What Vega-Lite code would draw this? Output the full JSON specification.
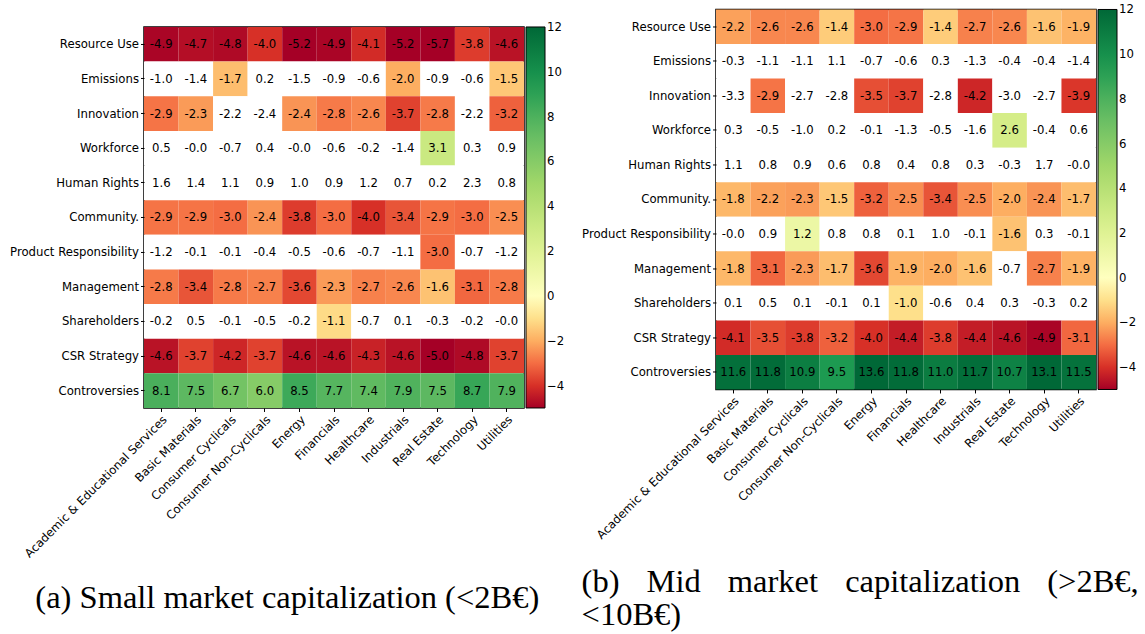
{
  "$schema": "https://vega.github.io/schema/vega-lite/v6.json",
  "background": "white",
  "padding": {"left": 8, "top": 8, "right": 0, "bottom": 0},
  "datasets": {
    "d": [
      {"p":"a","r":"Resource Use","c":"Academic & Educational Services","v":-4.9,"l":"-4.9","s":1},
      {"p":"a","r":"Resource Use","c":"Basic Materials","v":-4.7,"l":"-4.7","s":1},
      {"p":"a","r":"Resource Use","c":"Consumer Cyclicals","v":-4.8,"l":"-4.8","s":1},
      {"p":"a","r":"Resource Use","c":"Consumer Non-Cyclicals","v":-4.0,"l":"-4.0","s":1},
      {"p":"a","r":"Resource Use","c":"Energy","v":-5.2,"l":"-5.2","s":1},
      {"p":"a","r":"Resource Use","c":"Financials","v":-4.9,"l":"-4.9","s":1},
      {"p":"a","r":"Resource Use","c":"Healthcare","v":-4.1,"l":"-4.1","s":1},
      {"p":"a","r":"Resource Use","c":"Industrials","v":-5.2,"l":"-5.2","s":1},
      {"p":"a","r":"Resource Use","c":"Real Estate","v":-5.7,"l":"-5.7","s":1},
      {"p":"a","r":"Resource Use","c":"Technology","v":-3.8,"l":"-3.8","s":1},
      {"p":"a","r":"Resource Use","c":"Utilities","v":-4.6,"l":"-4.6","s":1},

      {"p":"a","r":"Emissions","c":"Academic & Educational Services","v":-1.0,"l":"-1.0","s":0},
      {"p":"a","r":"Emissions","c":"Basic Materials","v":-1.4,"l":"-1.4","s":0},
      {"p":"a","r":"Emissions","c":"Consumer Cyclicals","v":-1.7,"l":"-1.7","s":1},
      {"p":"a","r":"Emissions","c":"Consumer Non-Cyclicals","v":0.2,"l":"0.2","s":0},
      {"p":"a","r":"Emissions","c":"Energy","v":-1.5,"l":"-1.5","s":0},
      {"p":"a","r":"Emissions","c":"Financials","v":-0.9,"l":"-0.9","s":0},
      {"p":"a","r":"Emissions","c":"Healthcare","v":-0.6,"l":"-0.6","s":0},
      {"p":"a","r":"Emissions","c":"Industrials","v":-2.0,"l":"-2.0","s":1},
      {"p":"a","r":"Emissions","c":"Real Estate","v":-0.9,"l":"-0.9","s":0},
      {"p":"a","r":"Emissions","c":"Technology","v":-0.6,"l":"-0.6","s":0},
      {"p":"a","r":"Emissions","c":"Utilities","v":-1.5,"l":"-1.5","s":1},

      {"p":"a","r":"Innovation","c":"Academic & Educational Services","v":-2.9,"l":"-2.9","s":1},
      {"p":"a","r":"Innovation","c":"Basic Materials","v":-2.3,"l":"-2.3","s":1},
      {"p":"a","r":"Innovation","c":"Consumer Cyclicals","v":-2.2,"l":"-2.2","s":0},
      {"p":"a","r":"Innovation","c":"Consumer Non-Cyclicals","v":-2.4,"l":"-2.4","s":0},
      {"p":"a","r":"Innovation","c":"Energy","v":-2.4,"l":"-2.4","s":1},
      {"p":"a","r":"Innovation","c":"Financials","v":-2.8,"l":"-2.8","s":1},
      {"p":"a","r":"Innovation","c":"Healthcare","v":-2.6,"l":"-2.6","s":1},
      {"p":"a","r":"Innovation","c":"Industrials","v":-3.7,"l":"-3.7","s":1},
      {"p":"a","r":"Innovation","c":"Real Estate","v":-2.8,"l":"-2.8","s":1},
      {"p":"a","r":"Innovation","c":"Technology","v":-2.2,"l":"-2.2","s":0},
      {"p":"a","r":"Innovation","c":"Utilities","v":-3.2,"l":"-3.2","s":1},

      {"p":"a","r":"Workforce","c":"Academic & Educational Services","v":0.5,"l":"0.5","s":0},
      {"p":"a","r":"Workforce","c":"Basic Materials","v":-0.0,"l":"-0.0","s":0},
      {"p":"a","r":"Workforce","c":"Consumer Cyclicals","v":-0.7,"l":"-0.7","s":0},
      {"p":"a","r":"Workforce","c":"Consumer Non-Cyclicals","v":0.4,"l":"0.4","s":0},
      {"p":"a","r":"Workforce","c":"Energy","v":-0.0,"l":"-0.0","s":0},
      {"p":"a","r":"Workforce","c":"Financials","v":-0.6,"l":"-0.6","s":0},
      {"p":"a","r":"Workforce","c":"Healthcare","v":-0.2,"l":"-0.2","s":0},
      {"p":"a","r":"Workforce","c":"Industrials","v":-1.4,"l":"-1.4","s":0},
      {"p":"a","r":"Workforce","c":"Real Estate","v":3.1,"l":"3.1","s":1},
      {"p":"a","r":"Workforce","c":"Technology","v":0.3,"l":"0.3","s":0},
      {"p":"a","r":"Workforce","c":"Utilities","v":0.9,"l":"0.9","s":0},

      {"p":"a","r":"Human Rights","c":"Academic & Educational Services","v":1.6,"l":"1.6","s":0},
      {"p":"a","r":"Human Rights","c":"Basic Materials","v":1.4,"l":"1.4","s":0},
      {"p":"a","r":"Human Rights","c":"Consumer Cyclicals","v":1.1,"l":"1.1","s":0},
      {"p":"a","r":"Human Rights","c":"Consumer Non-Cyclicals","v":0.9,"l":"0.9","s":0},
      {"p":"a","r":"Human Rights","c":"Energy","v":1.0,"l":"1.0","s":0},
      {"p":"a","r":"Human Rights","c":"Financials","v":0.9,"l":"0.9","s":0},
      {"p":"a","r":"Human Rights","c":"Healthcare","v":1.2,"l":"1.2","s":0},
      {"p":"a","r":"Human Rights","c":"Industrials","v":0.7,"l":"0.7","s":0},
      {"p":"a","r":"Human Rights","c":"Real Estate","v":0.2,"l":"0.2","s":0},
      {"p":"a","r":"Human Rights","c":"Technology","v":2.3,"l":"2.3","s":0},
      {"p":"a","r":"Human Rights","c":"Utilities","v":0.8,"l":"0.8","s":0},

      {"p":"a","r":"Community.","c":"Academic & Educational Services","v":-2.9,"l":"-2.9","s":1},
      {"p":"a","r":"Community.","c":"Basic Materials","v":-2.9,"l":"-2.9","s":1},
      {"p":"a","r":"Community.","c":"Consumer Cyclicals","v":-3.0,"l":"-3.0","s":1},
      {"p":"a","r":"Community.","c":"Consumer Non-Cyclicals","v":-2.4,"l":"-2.4","s":1},
      {"p":"a","r":"Community.","c":"Energy","v":-3.8,"l":"-3.8","s":1},
      {"p":"a","r":"Community.","c":"Financials","v":-3.0,"l":"-3.0","s":1},
      {"p":"a","r":"Community.","c":"Healthcare","v":-4.0,"l":"-4.0","s":1},
      {"p":"a","r":"Community.","c":"Industrials","v":-3.4,"l":"-3.4","s":1},
      {"p":"a","r":"Community.","c":"Real Estate","v":-2.9,"l":"-2.9","s":1},
      {"p":"a","r":"Community.","c":"Technology","v":-3.0,"l":"-3.0","s":1},
      {"p":"a","r":"Community.","c":"Utilities","v":-2.5,"l":"-2.5","s":1},

      {"p":"a","r":"Product Responsibility","c":"Academic & Educational Services","v":-1.2,"l":"-1.2","s":0},
      {"p":"a","r":"Product Responsibility","c":"Basic Materials","v":-0.1,"l":"-0.1","s":0},
      {"p":"a","r":"Product Responsibility","c":"Consumer Cyclicals","v":-0.1,"l":"-0.1","s":0},
      {"p":"a","r":"Product Responsibility","c":"Consumer Non-Cyclicals","v":-0.4,"l":"-0.4","s":0},
      {"p":"a","r":"Product Responsibility","c":"Energy","v":-0.5,"l":"-0.5","s":0},
      {"p":"a","r":"Product Responsibility","c":"Financials","v":-0.6,"l":"-0.6","s":0},
      {"p":"a","r":"Product Responsibility","c":"Healthcare","v":-0.7,"l":"-0.7","s":0},
      {"p":"a","r":"Product Responsibility","c":"Industrials","v":-1.1,"l":"-1.1","s":0},
      {"p":"a","r":"Product Responsibility","c":"Real Estate","v":-3.0,"l":"-3.0","s":1},
      {"p":"a","r":"Product Responsibility","c":"Technology","v":-0.7,"l":"-0.7","s":0},
      {"p":"a","r":"Product Responsibility","c":"Utilities","v":-1.2,"l":"-1.2","s":0},

      {"p":"a","r":"Management","c":"Academic & Educational Services","v":-2.8,"l":"-2.8","s":1},
      {"p":"a","r":"Management","c":"Basic Materials","v":-3.4,"l":"-3.4","s":1},
      {"p":"a","r":"Management","c":"Consumer Cyclicals","v":-2.8,"l":"-2.8","s":1},
      {"p":"a","r":"Management","c":"Consumer Non-Cyclicals","v":-2.7,"l":"-2.7","s":1},
      {"p":"a","r":"Management","c":"Energy","v":-3.6,"l":"-3.6","s":1},
      {"p":"a","r":"Management","c":"Financials","v":-2.3,"l":"-2.3","s":1},
      {"p":"a","r":"Management","c":"Healthcare","v":-2.7,"l":"-2.7","s":1},
      {"p":"a","r":"Management","c":"Industrials","v":-2.6,"l":"-2.6","s":1},
      {"p":"a","r":"Management","c":"Real Estate","v":-1.6,"l":"-1.6","s":1},
      {"p":"a","r":"Management","c":"Technology","v":-3.1,"l":"-3.1","s":1},
      {"p":"a","r":"Management","c":"Utilities","v":-2.8,"l":"-2.8","s":1},

      {"p":"a","r":"Shareholders","c":"Academic & Educational Services","v":-0.2,"l":"-0.2","s":0},
      {"p":"a","r":"Shareholders","c":"Basic Materials","v":0.5,"l":"0.5","s":0},
      {"p":"a","r":"Shareholders","c":"Consumer Cyclicals","v":-0.1,"l":"-0.1","s":0},
      {"p":"a","r":"Shareholders","c":"Consumer Non-Cyclicals","v":-0.5,"l":"-0.5","s":0},
      {"p":"a","r":"Shareholders","c":"Energy","v":-0.2,"l":"-0.2","s":0},
      {"p":"a","r":"Shareholders","c":"Financials","v":-1.1,"l":"-1.1","s":1},
      {"p":"a","r":"Shareholders","c":"Healthcare","v":-0.7,"l":"-0.7","s":0},
      {"p":"a","r":"Shareholders","c":"Industrials","v":0.1,"l":"0.1","s":0},
      {"p":"a","r":"Shareholders","c":"Real Estate","v":-0.3,"l":"-0.3","s":0},
      {"p":"a","r":"Shareholders","c":"Technology","v":-0.2,"l":"-0.2","s":0},
      {"p":"a","r":"Shareholders","c":"Utilities","v":-0.0,"l":"-0.0","s":0},

      {"p":"a","r":"CSR Strategy","c":"Academic & Educational Services","v":-4.6,"l":"-4.6","s":1},
      {"p":"a","r":"CSR Strategy","c":"Basic Materials","v":-3.7,"l":"-3.7","s":1},
      {"p":"a","r":"CSR Strategy","c":"Consumer Cyclicals","v":-4.2,"l":"-4.2","s":1},
      {"p":"a","r":"CSR Strategy","c":"Consumer Non-Cyclicals","v":-3.7,"l":"-3.7","s":1},
      {"p":"a","r":"CSR Strategy","c":"Energy","v":-4.6,"l":"-4.6","s":1},
      {"p":"a","r":"CSR Strategy","c":"Financials","v":-4.6,"l":"-4.6","s":1},
      {"p":"a","r":"CSR Strategy","c":"Healthcare","v":-4.3,"l":"-4.3","s":1},
      {"p":"a","r":"CSR Strategy","c":"Industrials","v":-4.6,"l":"-4.6","s":1},
      {"p":"a","r":"CSR Strategy","c":"Real Estate","v":-5.0,"l":"-5.0","s":1},
      {"p":"a","r":"CSR Strategy","c":"Technology","v":-4.8,"l":"-4.8","s":1},
      {"p":"a","r":"CSR Strategy","c":"Utilities","v":-3.7,"l":"-3.7","s":1},

      {"p":"a","r":"Controversies","c":"Academic & Educational Services","v":8.1,"l":"8.1","s":1},
      {"p":"a","r":"Controversies","c":"Basic Materials","v":7.5,"l":"7.5","s":1},
      {"p":"a","r":"Controversies","c":"Consumer Cyclicals","v":6.7,"l":"6.7","s":1},
      {"p":"a","r":"Controversies","c":"Consumer Non-Cyclicals","v":6.0,"l":"6.0","s":1},
      {"p":"a","r":"Controversies","c":"Energy","v":8.5,"l":"8.5","s":1},
      {"p":"a","r":"Controversies","c":"Financials","v":7.7,"l":"7.7","s":1},
      {"p":"a","r":"Controversies","c":"Healthcare","v":7.4,"l":"7.4","s":1},
      {"p":"a","r":"Controversies","c":"Industrials","v":7.9,"l":"7.9","s":1},
      {"p":"a","r":"Controversies","c":"Real Estate","v":7.5,"l":"7.5","s":1},
      {"p":"a","r":"Controversies","c":"Technology","v":8.7,"l":"8.7","s":1},
      {"p":"a","r":"Controversies","c":"Utilities","v":7.9,"l":"7.9","s":1},

      {"p":"b","r":"Resource Use","c":"Academic & Educational Services","v":-2.2,"l":"-2.2","s":1},
      {"p":"b","r":"Resource Use","c":"Basic Materials","v":-2.6,"l":"-2.6","s":1},
      {"p":"b","r":"Resource Use","c":"Consumer Cyclicals","v":-2.6,"l":"-2.6","s":1},
      {"p":"b","r":"Resource Use","c":"Consumer Non-Cyclicals","v":-1.4,"l":"-1.4","s":1},
      {"p":"b","r":"Resource Use","c":"Energy","v":-3.0,"l":"-3.0","s":1},
      {"p":"b","r":"Resource Use","c":"Financials","v":-2.9,"l":"-2.9","s":1},
      {"p":"b","r":"Resource Use","c":"Healthcare","v":-1.4,"l":"-1.4","s":1},
      {"p":"b","r":"Resource Use","c":"Industrials","v":-2.7,"l":"-2.7","s":1},
      {"p":"b","r":"Resource Use","c":"Real Estate","v":-2.6,"l":"-2.6","s":1},
      {"p":"b","r":"Resource Use","c":"Technology","v":-1.6,"l":"-1.6","s":1},
      {"p":"b","r":"Resource Use","c":"Utilities","v":-1.9,"l":"-1.9","s":1},

      {"p":"b","r":"Emissions","c":"Academic & Educational Services","v":-0.3,"l":"-0.3","s":0},
      {"p":"b","r":"Emissions","c":"Basic Materials","v":-1.1,"l":"-1.1","s":0},
      {"p":"b","r":"Emissions","c":"Consumer Cyclicals","v":-1.1,"l":"-1.1","s":0},
      {"p":"b","r":"Emissions","c":"Consumer Non-Cyclicals","v":1.1,"l":"1.1","s":0},
      {"p":"b","r":"Emissions","c":"Energy","v":-0.7,"l":"-0.7","s":0},
      {"p":"b","r":"Emissions","c":"Financials","v":-0.6,"l":"-0.6","s":0},
      {"p":"b","r":"Emissions","c":"Healthcare","v":0.3,"l":"0.3","s":0},
      {"p":"b","r":"Emissions","c":"Industrials","v":-1.3,"l":"-1.3","s":0},
      {"p":"b","r":"Emissions","c":"Real Estate","v":-0.4,"l":"-0.4","s":0},
      {"p":"b","r":"Emissions","c":"Technology","v":-0.4,"l":"-0.4","s":0},
      {"p":"b","r":"Emissions","c":"Utilities","v":-1.4,"l":"-1.4","s":0},

      {"p":"b","r":"Innovation","c":"Academic & Educational Services","v":-3.3,"l":"-3.3","s":0},
      {"p":"b","r":"Innovation","c":"Basic Materials","v":-2.9,"l":"-2.9","s":1},
      {"p":"b","r":"Innovation","c":"Consumer Cyclicals","v":-2.7,"l":"-2.7","s":0},
      {"p":"b","r":"Innovation","c":"Consumer Non-Cyclicals","v":-2.8,"l":"-2.8","s":0},
      {"p":"b","r":"Innovation","c":"Energy","v":-3.5,"l":"-3.5","s":1},
      {"p":"b","r":"Innovation","c":"Financials","v":-3.7,"l":"-3.7","s":1},
      {"p":"b","r":"Innovation","c":"Healthcare","v":-2.8,"l":"-2.8","s":0},
      {"p":"b","r":"Innovation","c":"Industrials","v":-4.2,"l":"-4.2","s":1},
      {"p":"b","r":"Innovation","c":"Real Estate","v":-3.0,"l":"-3.0","s":0},
      {"p":"b","r":"Innovation","c":"Technology","v":-2.7,"l":"-2.7","s":0},
      {"p":"b","r":"Innovation","c":"Utilities","v":-3.9,"l":"-3.9","s":1},

      {"p":"b","r":"Workforce","c":"Academic & Educational Services","v":0.3,"l":"0.3","s":0},
      {"p":"b","r":"Workforce","c":"Basic Materials","v":-0.5,"l":"-0.5","s":0},
      {"p":"b","r":"Workforce","c":"Consumer Cyclicals","v":-1.0,"l":"-1.0","s":0},
      {"p":"b","r":"Workforce","c":"Consumer Non-Cyclicals","v":0.2,"l":"0.2","s":0},
      {"p":"b","r":"Workforce","c":"Energy","v":-0.1,"l":"-0.1","s":0},
      {"p":"b","r":"Workforce","c":"Financials","v":-1.3,"l":"-1.3","s":0},
      {"p":"b","r":"Workforce","c":"Healthcare","v":-0.5,"l":"-0.5","s":0},
      {"p":"b","r":"Workforce","c":"Industrials","v":-1.6,"l":"-1.6","s":0},
      {"p":"b","r":"Workforce","c":"Real Estate","v":2.6,"l":"2.6","s":1},
      {"p":"b","r":"Workforce","c":"Technology","v":-0.4,"l":"-0.4","s":0},
      {"p":"b","r":"Workforce","c":"Utilities","v":0.6,"l":"0.6","s":0},

      {"p":"b","r":"Human Rights","c":"Academic & Educational Services","v":1.1,"l":"1.1","s":0},
      {"p":"b","r":"Human Rights","c":"Basic Materials","v":0.8,"l":"0.8","s":0},
      {"p":"b","r":"Human Rights","c":"Consumer Cyclicals","v":0.9,"l":"0.9","s":0},
      {"p":"b","r":"Human Rights","c":"Consumer Non-Cyclicals","v":0.6,"l":"0.6","s":0},
      {"p":"b","r":"Human Rights","c":"Energy","v":0.8,"l":"0.8","s":0},
      {"p":"b","r":"Human Rights","c":"Financials","v":0.4,"l":"0.4","s":0},
      {"p":"b","r":"Human Rights","c":"Healthcare","v":0.8,"l":"0.8","s":0},
      {"p":"b","r":"Human Rights","c":"Industrials","v":0.3,"l":"0.3","s":0},
      {"p":"b","r":"Human Rights","c":"Real Estate","v":-0.3,"l":"-0.3","s":0},
      {"p":"b","r":"Human Rights","c":"Technology","v":1.7,"l":"1.7","s":0},
      {"p":"b","r":"Human Rights","c":"Utilities","v":-0.0,"l":"-0.0","s":0},

      {"p":"b","r":"Community.","c":"Academic & Educational Services","v":-1.8,"l":"-1.8","s":1},
      {"p":"b","r":"Community.","c":"Basic Materials","v":-2.2,"l":"-2.2","s":1},
      {"p":"b","r":"Community.","c":"Consumer Cyclicals","v":-2.3,"l":"-2.3","s":1},
      {"p":"b","r":"Community.","c":"Consumer Non-Cyclicals","v":-1.5,"l":"-1.5","s":1},
      {"p":"b","r":"Community.","c":"Energy","v":-3.2,"l":"-3.2","s":1},
      {"p":"b","r":"Community.","c":"Financials","v":-2.5,"l":"-2.5","s":1},
      {"p":"b","r":"Community.","c":"Healthcare","v":-3.4,"l":"-3.4","s":1},
      {"p":"b","r":"Community.","c":"Industrials","v":-2.5,"l":"-2.5","s":1},
      {"p":"b","r":"Community.","c":"Real Estate","v":-2.0,"l":"-2.0","s":1},
      {"p":"b","r":"Community.","c":"Technology","v":-2.4,"l":"-2.4","s":1},
      {"p":"b","r":"Community.","c":"Utilities","v":-1.7,"l":"-1.7","s":1},

      {"p":"b","r":"Product Responsibility","c":"Academic & Educational Services","v":-0.0,"l":"-0.0","s":0},
      {"p":"b","r":"Product Responsibility","c":"Basic Materials","v":0.9,"l":"0.9","s":0},
      {"p":"b","r":"Product Responsibility","c":"Consumer Cyclicals","v":1.2,"l":"1.2","s":1},
      {"p":"b","r":"Product Responsibility","c":"Consumer Non-Cyclicals","v":0.8,"l":"0.8","s":0},
      {"p":"b","r":"Product Responsibility","c":"Energy","v":0.8,"l":"0.8","s":0},
      {"p":"b","r":"Product Responsibility","c":"Financials","v":0.1,"l":"0.1","s":0},
      {"p":"b","r":"Product Responsibility","c":"Healthcare","v":1.0,"l":"1.0","s":0},
      {"p":"b","r":"Product Responsibility","c":"Industrials","v":-0.1,"l":"-0.1","s":0},
      {"p":"b","r":"Product Responsibility","c":"Real Estate","v":-1.6,"l":"-1.6","s":1},
      {"p":"b","r":"Product Responsibility","c":"Technology","v":0.3,"l":"0.3","s":0},
      {"p":"b","r":"Product Responsibility","c":"Utilities","v":-0.1,"l":"-0.1","s":0},

      {"p":"b","r":"Management","c":"Academic & Educational Services","v":-1.8,"l":"-1.8","s":1},
      {"p":"b","r":"Management","c":"Basic Materials","v":-3.1,"l":"-3.1","s":1},
      {"p":"b","r":"Management","c":"Consumer Cyclicals","v":-2.3,"l":"-2.3","s":1},
      {"p":"b","r":"Management","c":"Consumer Non-Cyclicals","v":-1.7,"l":"-1.7","s":1},
      {"p":"b","r":"Management","c":"Energy","v":-3.6,"l":"-3.6","s":1},
      {"p":"b","r":"Management","c":"Financials","v":-1.9,"l":"-1.9","s":1},
      {"p":"b","r":"Management","c":"Healthcare","v":-2.0,"l":"-2.0","s":1},
      {"p":"b","r":"Management","c":"Industrials","v":-1.6,"l":"-1.6","s":1},
      {"p":"b","r":"Management","c":"Real Estate","v":-0.7,"l":"-0.7","s":0},
      {"p":"b","r":"Management","c":"Technology","v":-2.7,"l":"-2.7","s":1},
      {"p":"b","r":"Management","c":"Utilities","v":-1.9,"l":"-1.9","s":1},

      {"p":"b","r":"Shareholders","c":"Academic & Educational Services","v":0.1,"l":"0.1","s":0},
      {"p":"b","r":"Shareholders","c":"Basic Materials","v":0.5,"l":"0.5","s":0},
      {"p":"b","r":"Shareholders","c":"Consumer Cyclicals","v":0.1,"l":"0.1","s":0},
      {"p":"b","r":"Shareholders","c":"Consumer Non-Cyclicals","v":-0.1,"l":"-0.1","s":0},
      {"p":"b","r":"Shareholders","c":"Energy","v":0.1,"l":"0.1","s":0},
      {"p":"b","r":"Shareholders","c":"Financials","v":-1.0,"l":"-1.0","s":1},
      {"p":"b","r":"Shareholders","c":"Healthcare","v":-0.6,"l":"-0.6","s":0},
      {"p":"b","r":"Shareholders","c":"Industrials","v":0.4,"l":"0.4","s":0},
      {"p":"b","r":"Shareholders","c":"Real Estate","v":0.3,"l":"0.3","s":0},
      {"p":"b","r":"Shareholders","c":"Technology","v":-0.3,"l":"-0.3","s":0},
      {"p":"b","r":"Shareholders","c":"Utilities","v":0.2,"l":"0.2","s":0},

      {"p":"b","r":"CSR Strategy","c":"Academic & Educational Services","v":-4.1,"l":"-4.1","s":1},
      {"p":"b","r":"CSR Strategy","c":"Basic Materials","v":-3.5,"l":"-3.5","s":1},
      {"p":"b","r":"CSR Strategy","c":"Consumer Cyclicals","v":-3.8,"l":"-3.8","s":1},
      {"p":"b","r":"CSR Strategy","c":"Consumer Non-Cyclicals","v":-3.2,"l":"-3.2","s":1},
      {"p":"b","r":"CSR Strategy","c":"Energy","v":-4.0,"l":"-4.0","s":1},
      {"p":"b","r":"CSR Strategy","c":"Financials","v":-4.4,"l":"-4.4","s":1},
      {"p":"b","r":"CSR Strategy","c":"Healthcare","v":-3.8,"l":"-3.8","s":1},
      {"p":"b","r":"CSR Strategy","c":"Industrials","v":-4.4,"l":"-4.4","s":1},
      {"p":"b","r":"CSR Strategy","c":"Real Estate","v":-4.6,"l":"-4.6","s":1},
      {"p":"b","r":"CSR Strategy","c":"Technology","v":-4.9,"l":"-4.9","s":1},
      {"p":"b","r":"CSR Strategy","c":"Utilities","v":-3.1,"l":"-3.1","s":1},

      {"p":"b","r":"Controversies","c":"Academic & Educational Services","v":11.6,"l":"11.6","s":1},
      {"p":"b","r":"Controversies","c":"Basic Materials","v":11.8,"l":"11.8","s":1},
      {"p":"b","r":"Controversies","c":"Consumer Cyclicals","v":10.9,"l":"10.9","s":1},
      {"p":"b","r":"Controversies","c":"Consumer Non-Cyclicals","v":9.5,"l":"9.5","s":1},
      {"p":"b","r":"Controversies","c":"Energy","v":13.6,"l":"13.6","s":1},
      {"p":"b","r":"Controversies","c":"Financials","v":11.8,"l":"11.8","s":1},
      {"p":"b","r":"Controversies","c":"Healthcare","v":11.0,"l":"11.0","s":1},
      {"p":"b","r":"Controversies","c":"Industrials","v":11.7,"l":"11.7","s":1},
      {"p":"b","r":"Controversies","c":"Real Estate","v":10.7,"l":"10.7","s":1},
      {"p":"b","r":"Controversies","c":"Technology","v":13.1,"l":"13.1","s":1},
      {"p":"b","r":"Controversies","c":"Utilities","v":11.5,"l":"11.5","s":1}
    ]
  },
  "spacing": 14,
  "center": true,
  "resolve": {"scale": {"color": "independent"}, "legend": {"color": "independent"}},
  "hconcat": [
    {
      "data": {"name": "d"},
      "transform": [{"filter": "datum.p == 'a'"}],
      "width": 380,
      "height": 381,
      "title": {"text": "(a) Small market capitalization (<2B€)", "orient": "bottom", "anchor": "middle", "frame": "bounds", "offset": 22},
      "encoding": {
        "x": {"field": "c", "type": "nominal", "sort": null, "axis": {"labelAngle": -45, "labelAlign": "right", "labelBaseline": "top"}},
        "y": {"field": "r", "type": "nominal", "sort": null}
      },
      "layer": [
        {
          "mark": {"type": "rect"},
          "encoding": {
            "color": {
              "condition": {
                "test": "datum.s == 1",
                "field": "v",
                "type": "quantitative",
                "scale": {"type": "linear", "domain": [-5, -4, -3, -2, -1, 0, 2.4, 4.8, 7.2, 9.6, 12], "range": ["#a50026", "#d73027", "#f46d43", "#fdae61", "#fee08b", "#ffffbf", "#d9ef8b", "#a6d96a", "#66bd63", "#1a9850", "#006837"], "clamp": true, "interpolate": "rgb", "zero": false, "nice": false},
                "legend": {"title": null, "values": [-4, -2, 0, 2, 4, 6, 8, 10, 12], "gradientLength": 381, "encode": {"labels": {"update": {"baseline": {"value": "middle"}}}}}
              },
              "value": "white"
            }
          }
        },
        {
          "mark": {"type": "text", "font": "DejaVu Sans", "fontSize": 11.7, "color": "black"},
          "encoding": {"text": {"field": "l", "type": "nominal"}}
        }
      ]
    },
    {
      "data": {"name": "d"},
      "transform": [{"filter": "datum.p == 'b'"}],
      "width": 380,
      "height": 380,
      "title": {"text": ["(b)\u00a0\u00a0\u00a0\u200aMid\u00a0\u00a0\u00a0\u200amarket\u00a0\u00a0\u00a0\u200acapitalization\u00a0\u00a0\u00a0\u200a(>2B€,", "<10B€)"], "orient": "bottom", "anchor": "start", "align": "left", "frame": "bounds", "offset": 25},
      "encoding": {
        "x": {"field": "c", "type": "nominal", "sort": null, "axis": {"labelAngle": -45, "labelAlign": "right", "labelBaseline": "top"}},
        "y": {"field": "r", "type": "nominal", "sort": null}
      },
      "layer": [
        {
          "mark": {"type": "rect"},
          "encoding": {
            "color": {
              "condition": {
                "test": "datum.s == 1",
                "field": "v",
                "type": "quantitative",
                "scale": {"type": "linear", "domain": [-5, -4, -3, -2, -1, 0, 2.4, 4.8, 7.2, 9.6, 12], "range": ["#a50026", "#d73027", "#f46d43", "#fdae61", "#fee08b", "#ffffbf", "#d9ef8b", "#a6d96a", "#66bd63", "#1a9850", "#006837"], "clamp": true, "interpolate": "rgb", "zero": false, "nice": false},
                "legend": {"title": null, "values": [-4, -2, 0, 2, 4, 6, 8, 10, 12], "gradientLength": 380, "encode": {"labels": {"update": {"baseline": {"value": "middle"}}}}}
              },
              "value": "white"
            }
          }
        },
        {
          "mark": {"type": "text", "font": "DejaVu Sans", "fontSize": 11.7, "color": "black"},
          "encoding": {"text": {"field": "l", "type": "nominal"}}
        }
      ]
    }
  ],
  "config": {
    "view": {"stroke": "black", "strokeWidth": 1.5},
    "axis": {"labelFont": "DejaVu Sans", "labelFontSize": 11.7, "labelColor": "black", "tickColor": "black", "tickSize": 3.5, "tickWidth": 1, "domain": false, "grid": false, "title": null, "labelPadding": 2, "labelLimit": 0, "labelOverlap": false},
    "legend": {"gradientThickness": 19, "offset": 2, "padding": 0, "labelOffset": 5, "labelFont": "DejaVu Sans", "labelFontSize": 11.7, "labelColor": "black", "gradientStrokeColor": "black", "gradientStrokeWidth": 1, "labelOverlap": false, "direction": "vertical"},
    "title": {"font": "Liberation Serif", "fontSize": 32.5, "fontWeight": "normal", "color": "black", "lineHeight": 33}
  }
}
